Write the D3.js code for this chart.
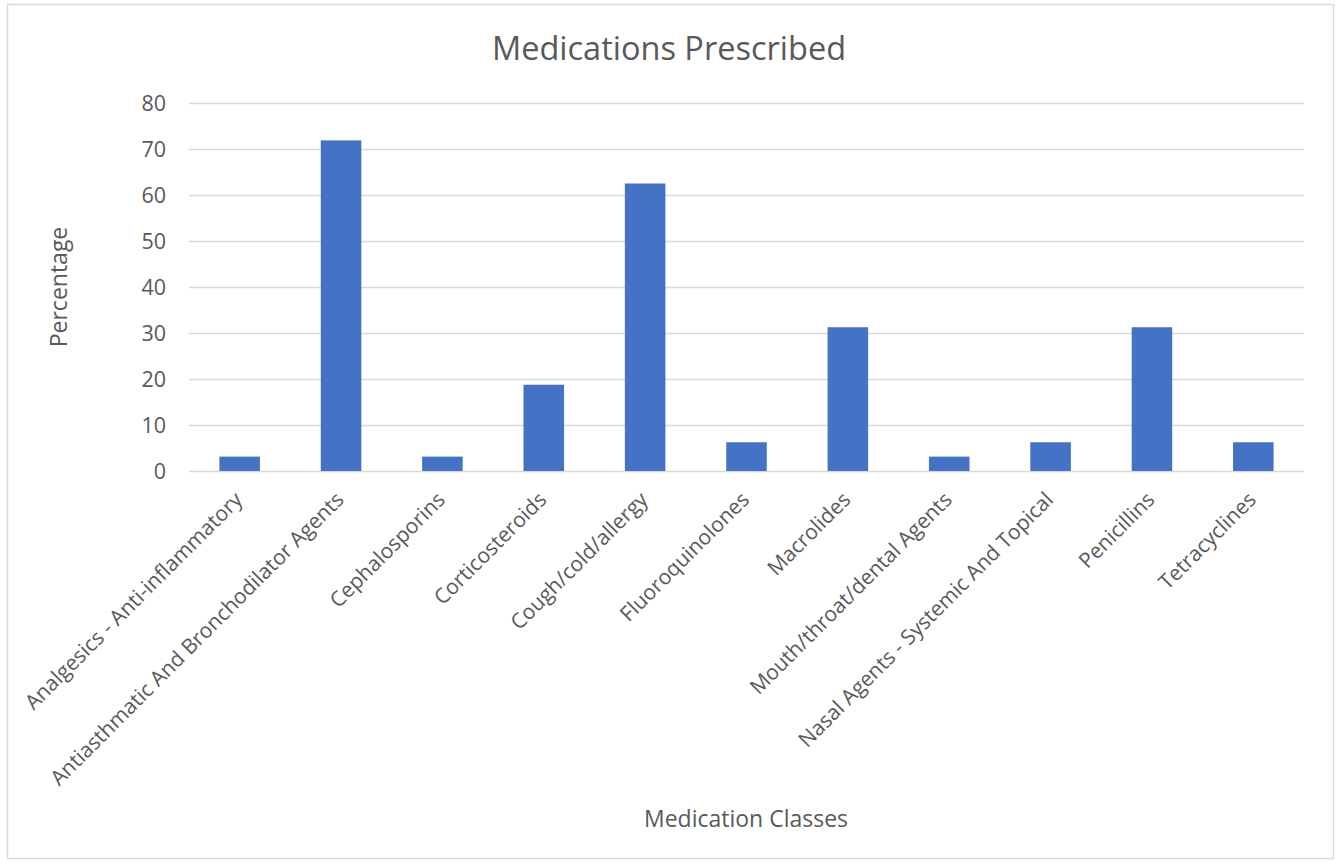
<!DOCTYPE html>
<html><head><meta charset="utf-8">
<script src="https://cdn.jsdelivr.net/npm/d3@7"></script>
<style>
html,body{margin:0;padding:0;background:#fff;}
svg{display:block;}
text{fill:#595959;}
</style></head>
<body>
<script>
const categories = [
  "Analgesics - Anti-inflammatory",
  "Antiasthmatic And Bronchodilator Agents",
  "Cephalosporins",
  "Corticosteroids",
  "Cough/cold/allergy",
  "Fluoroquinolones",
  "Macrolides",
  "Mouth/throat/dental Agents",
  "Nasal Agents - Systemic And Topical",
  "Penicillins",
  "Tetracyclines"
];
const values = [3.125, 71.875, 3.125, 18.75, 62.5, 6.25, 31.25, 3.125, 6.25, 31.25, 6.25];
const yTicks = [0, 10, 20, 30, 40, 50, 60, 70, 80];
const title = "Medications Prescribed";
const xTitle = "Medication Classes";
const yTitle = "Percentage";

const W = 1341, H = 865;
const svg = d3.select("body").append("svg").attr("width", W).attr("height", H);

// chart border
svg.append("rect").attr("x", 7.5).attr("y", 4.5).attr("width", 1326).attr("height", 854)
  .attr("fill", "#fff").attr("stroke", "#d9d9d9").attr("stroke-width", 1.5);

const plot = {left: 189, right: 1304, top: 103, bottom: 471};
const x = d3.scaleBand().domain(categories).range([plot.left, plot.right])
  .paddingInner(0.6).paddingOuter(0.3);
const y = d3.scaleLinear().domain([0, 80]).range([plot.bottom, plot.top]);

// gridlines
svg.append("g").selectAll("line").data(yTicks).join("line")
  .attr("x1", plot.left).attr("x2", plot.right)
  .attr("y1", d => Math.round(y(d)) + 0.5).attr("y2", d => Math.round(y(d)) + 0.5)
  .attr("stroke", "#d9d9d9").attr("stroke-width", 1.3);

// y axis labels
const yAxis = d3.axisLeft(y).tickValues(yTicks).tickSize(0).tickPadding(0);
const yg = svg.append("g").attr("transform", `translate(${166},0)`).call(yAxis);
yg.select(".domain").remove();
yg.selectAll("text").attr("font-family", "'Open Sans', sans-serif").attr("font-size", 21.5)
  .attr("fill", "#595959").attr("dy", "0.34em");

// bars
svg.append("g").selectAll("rect").data(values).join("rect")
  .attr("x", (d, i) => x(categories[i]))
  .attr("width", x.bandwidth())
  .attr("y", d => y(d))
  .attr("height", d => y(0) - y(d))
  .attr("fill", "#4472C4");

// x axis labels
const xAxis = d3.axisBottom(x).tickSize(0).tickPadding(0);
const xg = svg.append("g").attr("transform", `translate(0,${plot.bottom})`).call(xAxis);
xg.select(".domain").remove();
xg.selectAll("text")
  .attr("font-family", "'Open Sans', sans-serif").attr("font-size", 21)
  .attr("fill", "#595959")
  .attr("text-anchor", "end")
  .attr("dy", null).attr("y", null)
  .attr("transform", "translate(4,30) rotate(-45)");

// title
svg.append("text").attr("x", 669).attr("y", 60).attr("text-anchor", "middle")
  .attr("font-family", "'Open Sans', sans-serif").attr("font-size", 32.5).text(title);

// x title
svg.append("text").attr("x", 746).attr("y", 827).attr("text-anchor", "middle")
  .attr("font-family", "'Open Sans', sans-serif").attr("font-size", 23).text(xTitle);

// y title
svg.append("text").attr("transform", "translate(67,287) rotate(-90)").attr("text-anchor", "middle")
  .attr("font-family", "'Open Sans', sans-serif").attr("font-size", 23).text(yTitle);
</script>
</body></html>
